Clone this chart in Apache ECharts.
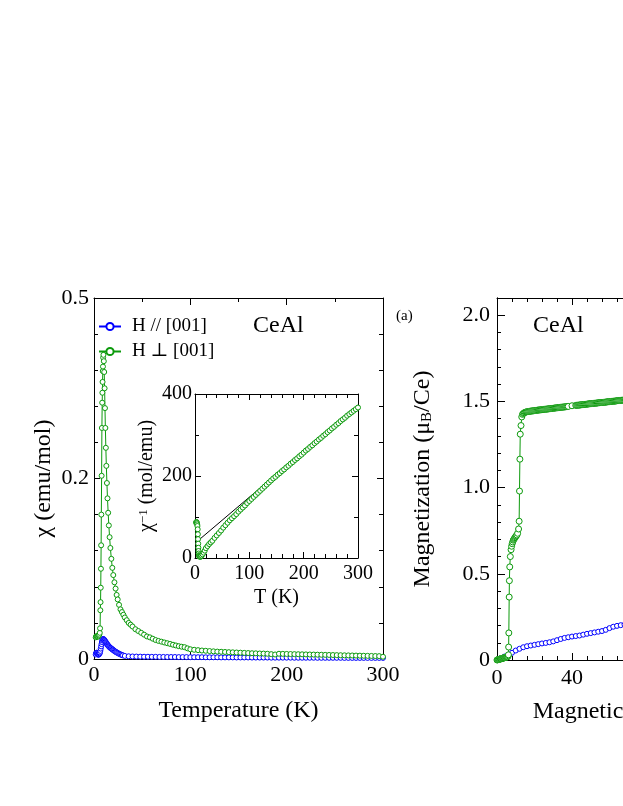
<!DOCTYPE html>
<html>
<head>
<meta charset="utf-8">
<script src="https://cdn.jsdelivr.net/npm/echarts@6/dist/echarts.min.js"></script>
<style>
  html, body { margin: 0; padding: 0; background: #fff; overflow: hidden; }
  #chart { width: 623px; height: 806px; }
</style>
</head>
<body>
<div id="chart"></div>
<script>
const SERIF = '"Liberation Serif", "Times New Roman", "DejaVu Serif", serif'
const BLUE = '#0000ff'
const GREEN = '#0c9a0c'

// main panel: chi(T), H // [001]
const tPar = [1.8, 2.2, 2.6, 3.0, 3.4, 3.8, 4.2, 4.6, 5.0, 5.4, 5.8, 6.2, 6.6, 7.0, 7.4, 7.8, 8.2, 8.6, 9.0, 9.4,
  9.8, 10.2, 10.6, 11.0, 11.5, 12.0, 12.5, 13.0, 13.5, 14.0, 14.5, 15.0, 15.6, 16.2, 16.8, 17.4, 18.0, 18.7, 19.4, 20.1,
  20.8, 21.6, 22.4, 23.2, 24.0, 25.0, 26.0, 27.0, 28.0, 29.0, 30.0,
  32, 36, 40, 44, 48, 52, 56, 60, 64, 68, 72, 76, 80, 84, 88, 92, 96, 100, 104, 108, 112, 116, 120,
  124, 128, 132, 136, 140, 144, 148, 152, 156, 160, 164, 168, 172, 176, 180, 184, 188, 192, 196, 200,
  204, 208, 212, 216, 220, 224, 228, 232, 236, 240, 244, 248, 252, 256, 260, 264, 268, 272, 276, 280,
  284, 288, 292, 296, 300]
const chiPar = [0.0050, 0.0065, 0.0070, 0.0068, 0.0062, 0.0055, 0.0050, 0.0048, 0.0050, 0.0055, 0.0062, 0.0072, 0.0090, 0.0115, 0.0140, 0.0165, 0.0188, 0.0205, 0.0215, 0.0220,
  0.0220, 0.0217, 0.0212, 0.0206, 0.0198, 0.0190, 0.0182, 0.0174, 0.0166, 0.0158, 0.0151, 0.0145, 0.0138, 0.0131, 0.0125, 0.0120, 0.0116, 0.0110, 0.0104, 0.0098,
  0.0092, 0.0086, 0.0080, 0.0075, 0.0070, 0.0064, 0.0058, 0.0053, 0.0048, 0.0044, 0.0040,
  0.0034, 0.0030, 0.0028, 0.0027, 0.0026, 0.0025, 0.0025, 0.0024, 0.0024, 0.0023, 0.0023, 0.0022, 0.0022, 0.0022, 0.0021, 0.0021, 0.0021, 0.0020, 0.0020, 0.0020, 0.0020, 0.0019, 0.0019,
  0.0019, 0.0019, 0.0018, 0.0018, 0.0018, 0.0018, 0.0017, 0.0017, 0.0017, 0.0017, 0.0016, 0.0016, 0.0016, 0.0016, 0.0016, 0.0015, 0.0015, 0.0015, 0.0015, 0.0015,
  0.0015, 0.0014, 0.0014, 0.0014, 0.0014, 0.0014, 0.0014, 0.0013, 0.0013, 0.0013, 0.0013, 0.0013, 0.0013, 0.0013, 0.0012, 0.0012, 0.0012, 0.0012, 0.0012, 0.0012,
  0.0012, 0.0012, 0.0012, 0.0012, 0.0012]

// main panel: chi(T), H perpendicular [001]
const tPerp = [1.8, 2.2, 2.6, 3.0, 3.5, 4.0, 4.5, 5.0, 5.5, 6.0, 6.3, 6.6, 6.8, 7.0, 7.2, 7.4, 7.6, 7.9, 8.2, 8.5,
  8.7, 8.9, 9.1, 9.3, 9.5, 9.8, 10.2, 10.6, 11.0, 11.4, 11.8, 12.3, 12.8, 13.4, 14.0, 14.7, 15.4, 16.2, 17.0, 18.0,
  19.0, 20.0, 21.2, 22.4, 23.5, 24.6, 26.0, 27.5, 29.0, 30.5, 32, 34, 36, 38, 40, 43, 46, 49, 52, 55,
  58, 61, 64, 67, 70, 73, 76, 79, 82, 85, 88, 91, 94, 97, 100, 104, 108, 112, 116, 120,
  124, 128, 132, 136, 140, 144, 148, 152, 156, 160, 164, 168, 172, 176, 180, 184, 188, 192, 196, 200,
  204, 208, 212, 216, 220, 224, 228, 232, 236, 240, 244, 248, 252, 256, 260, 264, 268, 272, 276, 280,
  284, 288, 292, 296, 300]
const chiPerp = [0.024, 0.025, 0.025, 0.025, 0.025, 0.025, 0.025, 0.026, 0.027, 0.029, 0.034, 0.054, 0.063, 0.079, 0.100, 0.126, 0.160, 0.203, 0.256, 0.284,
  0.295, 0.307, 0.319, 0.324, 0.334, 0.337, 0.330, 0.318, 0.300, 0.278, 0.256, 0.234, 0.214, 0.195, 0.178, 0.162, 0.148, 0.135, 0.123, 0.111,
  0.101, 0.093, 0.085, 0.078, 0.071, 0.066, 0.060, 0.055, 0.052, 0.049, 0.046, 0.043, 0.040, 0.038, 0.036, 0.033, 0.031, 0.029, 0.027, 0.025,
  0.024, 0.0225, 0.021, 0.020, 0.0192, 0.0183, 0.0175, 0.0167, 0.0158, 0.0150, 0.0142, 0.0136, 0.0131, 0.0118, 0.0108, 0.0102, 0.0098, 0.0094, 0.0091, 0.0088,
  0.0085, 0.0082, 0.0080, 0.0078, 0.0076, 0.0074, 0.0072, 0.0070, 0.0068, 0.0066, 0.0064, 0.0063, 0.0061, 0.0060, 0.0058, 0.0054, 0.0050, 0.0058, 0.0057, 0.0056,
  0.0055, 0.0054, 0.0053, 0.0052, 0.0051, 0.0050, 0.0049, 0.0048, 0.0047, 0.0046, 0.0045, 0.0044, 0.0043, 0.0042, 0.0041, 0.0040, 0.0039, 0.0038, 0.0037, 0.0036,
  0.0035, 0.0034, 0.0033, 0.0032, 0.0025]

// inset: 1/chi(T), H perpendicular [001], and Curie-Weiss line
const tInv = [2.0, 2.5, 3.0, 3.5, 4.0, 4.5, 5.0, 5.3, 5.6, 5.9, 6.2, 6.5, 6.8, 7.2, 7.6, 8, 9, 10, 11, 12,
  14, 16, 18, 20, 23, 26, 29, 32, 36, 40, 44, 48, 52, 56, 60, 64, 68, 72, 76, 80,
  84, 88, 92, 96, 100, 104, 108, 112, 116, 120, 124, 128, 132, 136, 140, 144, 148, 152, 156, 160,
  164, 168, 172, 176, 180, 184, 188, 192, 196, 200, 204, 208, 212, 216, 220, 224, 228, 232, 236, 240,
  244, 248, 252, 256, 260, 264, 268, 272, 276, 280, 284, 288, 292, 296, 300]
const invChi = [86, 88, 87, 85, 82, 78, 70, 58, 46, 35, 25, 17, 11, 7, 5, 4, 3, 3, 4, 6,
  9, 13, 18, 24, 29, 34, 38, 42, 49, 55, 61, 67, 74, 80, 86, 92, 97, 102, 107, 113,
  118, 123, 128, 134, 139, 144, 149, 154, 159, 164, 169, 174, 179, 184, 189, 194, 198, 203, 207, 212,
  216, 221, 225, 230, 234, 239, 243, 248, 252, 257, 262, 266, 271, 275, 280, 284, 289, 293, 298, 302,
  307, 311, 316, 320, 325, 329, 334, 338, 342, 347, 351, 355, 359, 363, 367]
const tFit = [0, 300]
const invFit = [36, 373]

// right panel: M(H), H // [001]
const hPar = [0, 2, 4, 6, 8, 10, 12, 14, 16, 18, 20, 22, 24, 26, 28, 30, 32, 34, 36, 38,
  40, 42, 44, 46, 48, 50, 52, 54, 56, 58, 60, 62, 64, 66, 68, 70]
const mPar = [0, 0.010, 0.020, 0.030, 0.042, 0.055, 0.065, 0.074, 0.080, 0.084, 0.088, 0.092, 0.096, 0.099, 0.103, 0.108, 0.115, 0.122, 0.128, 0.132,
  0.136, 0.139, 0.142, 0.147, 0.152, 0.156, 0.160, 0.164, 0.168, 0.175, 0.185, 0.193, 0.198, 0.202, 0.205, 0.208]

// right panel: M(H), H perpendicular [001] (low field and metamagnetic steps)
const hPerp = [0, 0.3, 0.6, 0.9, 1.2, 1.5, 1.8, 2.1, 2.4, 2.7, 3.0, 3.3, 3.6, 3.9, 4.2, 4.5, 4.8, 5.1, 5.4, 5.7,
  6.0, 6.1, 6.2, 6.3, 6.5, 6.6, 6.8, 7.1, 7.5, 7.8, 8.1, 8.4, 8.7, 9.0, 9.3, 9.6, 9.9, 10.2, 10.6, 11.0,
  11.5, 11.8, 12.0, 12.2, 12.4, 12.8, 13.2, 13.6]
const mPerp = [0, 0.001, 0.002, 0.003, 0.004, 0.005, 0.006, 0.007, 0.008, 0.009, 0.010, 0.011, 0.012, 0.013, 0.014, 0.015, 0.016, 0.017, 0.018, 0.019,
  0.025, 0.030, 0.075, 0.157, 0.365, 0.46, 0.54, 0.60, 0.64, 0.66, 0.675, 0.685, 0.695, 0.700, 0.705, 0.710, 0.715, 0.720, 0.725, 0.735,
  0.760, 0.805, 0.98, 1.165, 1.31, 1.36, 1.41, 1.425]
// H perpendicular [001], saturated plateau (dense sweep)
const hPlateau = [14.0, 14.5, 15.0, 15.5, 16.0, 16.5, 17.0, 17.5, 18.0, 18.5, 19.0, 19.5, 20.0, 20.5, 21.0, 21.5, 22.0, 22.5, 23.0, 23.5,
  24.0, 24.5, 25.0, 25.5, 26.0, 26.5, 27.0, 27.5, 28.0, 28.5, 29.0, 29.5, 30.0, 30.5, 31.0, 31.5, 32.0, 32.5, 33.0, 33.5,
  34.0, 34.5, 35.0, 35.5, 36.0, 36.5, 37.0, 37.5, 38.0, 40.0, 42.0, 42.5, 43.0, 43.5, 44.0, 44.5, 45.0, 45.5, 46.0, 46.5,
  47.0, 47.5, 48.0, 48.5, 49.0, 49.5, 50.0, 50.5, 51.0, 51.5, 52.0, 52.5, 53.0, 53.5, 54.0, 54.5, 55.0, 55.5, 56.0, 56.5,
  57.0, 57.5, 58.0, 58.5, 59.0, 59.5, 60.0, 60.5, 61.0, 61.5, 62.0, 62.5, 63.0, 63.5, 64.0, 64.5, 65.0, 65.5, 66.0, 66.5,
  67.0, 67.5, 68.0, 68.5, 69.0, 69.5, 70.0]
const mPlateau = [1.430, 1.434, 1.437, 1.439, 1.440, 1.441, 1.442, 1.443, 1.444, 1.4445, 1.445, 1.446, 1.447, 1.4475, 1.448, 1.449, 1.450, 1.4505, 1.451, 1.4515,
  1.452, 1.453, 1.454, 1.4545, 1.455, 1.4555, 1.456, 1.457, 1.458, 1.4585, 1.459, 1.4595, 1.460, 1.461, 1.462, 1.4625, 1.463, 1.4635, 1.464, 1.465,
  1.466, 1.4665, 1.467, 1.4675, 1.468, 1.469, 1.470, 1.4705, 1.471, 1.475, 1.477, 1.4775, 1.478, 1.4785, 1.479, 1.480, 1.481, 1.4815, 1.482, 1.4825,
  1.483, 1.4835, 1.484, 1.485, 1.486, 1.4865, 1.487, 1.4875, 1.488, 1.4885, 1.489, 1.4895, 1.490, 1.491, 1.492, 1.4925, 1.493, 1.4935, 1.494, 1.4945,
  1.495, 1.4955, 1.496, 1.497, 1.498, 1.4985, 1.499, 1.4995, 1.500, 1.5005, 1.501, 1.5015, 1.502, 1.503, 1.504, 1.5045, 1.505, 1.5055, 1.506, 1.5065,
  1.507, 1.5075, 1.508, 1.5085, 1.509, 1.5095, 1.510]

// tick labels as printed on the figure
const chiTickLabels = ['0', '0.2', '0.5']
const mTickLabels = ['0', '0.5', '1.0', '1.5', '2.0']

const zip = (xs, ys) => xs.map((x, i) => [x, ys[i]])

const chart = echarts.init(document.getElementById('chart'), null, { renderer: 'canvas' })

const line = { show: true, onZero: false, lineStyle: { color: '#000', width: 1 } }
const tick = (len) => ({ show: true, inside: true, length: len, lineStyle: { color: '#000', width: 1 } })
const minor = (n, len) => ({ show: true, splitNumber: n, length: len, lineStyle: { color: '#000', width: 1 } })
const nameFont = (size) => ({ fontFamily: SERIF, fontSize: size, color: '#000' })

function frameAxis(gridIndex, position, min, max, interval, minorN, extra) {
  return Object.assign({
    type: 'value', gridIndex, position, min, max, interval,
    axisLine: line,
    axisTick: tick(7),
    minorTick: minorN ? minor(minorN, 4) : { show: false },
    axisLabel: { show: false },
    splitLine: { show: false }
  }, extra || {})
}

const option = {
  animation: false,
  backgroundColor: '#fff',
  grid: [
    { left: 94, top: 298, width: 289, height: 361, containLabel: false, outerBoundsMode: 'none' },
    { left: 195, top: 394, width: 163, height: 164, containLabel: false, outerBoundsMode: 'none' },
    { left: 497, top: 298, width: 225, height: 362, containLabel: false, outerBoundsMode: 'none' }
  ],
  xAxis: [
    frameAxis(0, 'bottom', 0, 300, 100, 2, {
      name: 'Temperature (K)', nameLocation: 'middle', nameGap: 40, nameTextStyle: nameFont(24),
      axisLabel: { show: true, margin: 5, fontFamily: SERIF, fontSize: 22, color: '#000' }
    }),
    frameAxis(0, 'top', 0, 300, 100, 2),
    frameAxis(1, 'bottom', 0, 300, 100, 5, {
      name: 'T (K)', nameLocation: 'middle', nameGap: 30, nameTextStyle: nameFont(20),
      axisTick: tick(6),
      axisLabel: { show: true, margin: 6, fontFamily: SERIF, fontSize: 20, color: '#000' }
    }),
    frameAxis(1, 'top', 0, 300, 100, 5, { axisTick: tick(6) }),
    frameAxis(2, 'bottom', 0, 120, 40, 5, {
      name: 'Magnetic Field (T)', nameLocation: 'middle', nameGap: 40,
      nameTextStyle: Object.assign(nameFont(24), { padding: [0, 0, 0, 29] }),
      axisLabel: { show: true, margin: 7, fontFamily: SERIF, fontSize: 22, color: '#000' }
    }),
    frameAxis(2, 'top', 0, 120, 40, 5)
  ],
  yAxis: [
    frameAxis(0, 'left', 0, 0.4, 0.2, 5, {
      name: 'χ (emu/mol)', nameLocation: 'middle', nameGap: 38, nameTextStyle: nameFont(24),
      axisTick: tick(6),
      axisLabel: {
        show: true, margin: 5, fontFamily: SERIF, fontSize: 22, color: '#000',
        formatter: v => chiTickLabels[Math.round(v / 0.2)]
      }
    }),
    frameAxis(0, 'right', 0, 0.4, 0.2, 5, { axisTick: tick(6) }),
    frameAxis(1, 'left', 0, 400, 200, 2, {
      name: '{t|χ}{sup|−1}{t| (mol/emu)}', nameLocation: 'middle', nameGap: 38,
      nameTextStyle: {
        rich: {
          t: { fontFamily: SERIF, fontSize: 20, color: '#000' },
          sup: { fontFamily: SERIF, fontSize: 13, color: '#000', verticalAlign: 'top' }
        }
      },
      axisTick: tick(6),
      axisLabel: { show: true, margin: 3, fontFamily: SERIF, fontSize: 20, color: '#000' }
    }),
    frameAxis(1, 'right', 0, 400, 200, 2, { axisTick: tick(6) }),
    frameAxis(2, 'left', 0, 2.1, 0.5, 0, {
      name: '{t|Magnetization (μ}{sub|B}{t|/Ce)}', nameLocation: 'middle', nameGap: 62,
      nameTextStyle: {
        rich: {
          t: { fontFamily: SERIF, fontSize: 24, color: '#000' },
          sub: { fontFamily: SERIF, fontSize: 15, color: '#000', verticalAlign: 'bottom' }
        }
      },
      axisTick: tick(8),
      axisLabel: {
        show: true, margin: 7, fontFamily: SERIF, fontSize: 22, color: '#000', showMaxLabel: false,
        formatter: v => mTickLabels[Math.round(v / 0.5)] || ''
      }
    }),
    frameAxis(2, 'left', 0, 2.1, 0.1, 0, { axisTick: tick(4) }),
    frameAxis(2, 'right', 0, 2.1, 0.1, 0, { axisTick: tick(4) })
  ],
  legend: {
    orient: 'vertical', left: 98, top: 317, padding: 0,
    itemWidth: 22, itemHeight: 9, itemGap: 6,
    data: ['H // [001]', 'H ⊥ [001]'],
    textStyle: { fontFamily: SERIF, fontSize: 19, color: '#000', padding: [0, 0, 0, 6] }
  },
  graphic: [
    { type: 'text', left: 253, top: 314, style: { text: 'CeAl', font: '24px ' + SERIF, fill: '#000' } },
    { type: 'text', left: 533, top: 314, style: { text: 'CeAl', font: '24px ' + SERIF, fill: '#000' } },
    { type: 'text', left: 396, top: 309, style: { text: '(a)', font: '15px ' + SERIF, fill: '#000' } }
  ],
  series: [
    {
      name: 'H // [001]', type: 'line', xAxisIndex: 0, yAxisIndex: 0,
      data: zip(tPar, chiPar), symbol: 'circle', symbolSize: 5,
      itemStyle: { color: '#fff', borderColor: BLUE, borderWidth: 1 },
      lineStyle: { color: BLUE, width: 1 }
    },
    {
      name: 'H ⊥ [001]', type: 'line', xAxisIndex: 0, yAxisIndex: 0,
      data: zip(tPerp, chiPerp), symbol: 'circle', symbolSize: 5,
      itemStyle: { color: '#fff', borderColor: GREEN, borderWidth: 1 },
      lineStyle: { color: GREEN, width: 1 }
    },
    {
      name: 'inverse', type: 'line', xAxisIndex: 2, yAxisIndex: 2,
      data: zip(tInv, invChi), symbol: 'circle', symbolSize: 5,
      itemStyle: { color: '#fff', borderColor: GREEN, borderWidth: 1 },
      lineStyle: { color: GREEN, width: 1 }
    },
    {
      name: 'fit', type: 'line', xAxisIndex: 2, yAxisIndex: 2,
      data: zip(tFit, invFit), symbol: 'none',
      lineStyle: { color: '#000', width: 1 }
    },
    {
      name: 'H // [001]', type: 'line', xAxisIndex: 4, yAxisIndex: 4,
      data: zip(hPar, mPar), symbol: 'circle', symbolSize: 5,
      itemStyle: { color: '#fff', borderColor: BLUE, borderWidth: 1 },
      lineStyle: { color: BLUE, width: 1 }
    },
    {
      name: 'H ⊥ [001]', type: 'line', xAxisIndex: 4, yAxisIndex: 4,
      data: zip(hPerp.concat(hPlateau), mPerp.concat(mPlateau)), symbol: 'circle', symbolSize: 6,
      itemStyle: { color: '#fff', borderColor: GREEN, borderWidth: 1 },
      lineStyle: { color: GREEN, width: 1 }
    }
  ]
}

chart.setOption(option)
</script>
</body>
</html>
